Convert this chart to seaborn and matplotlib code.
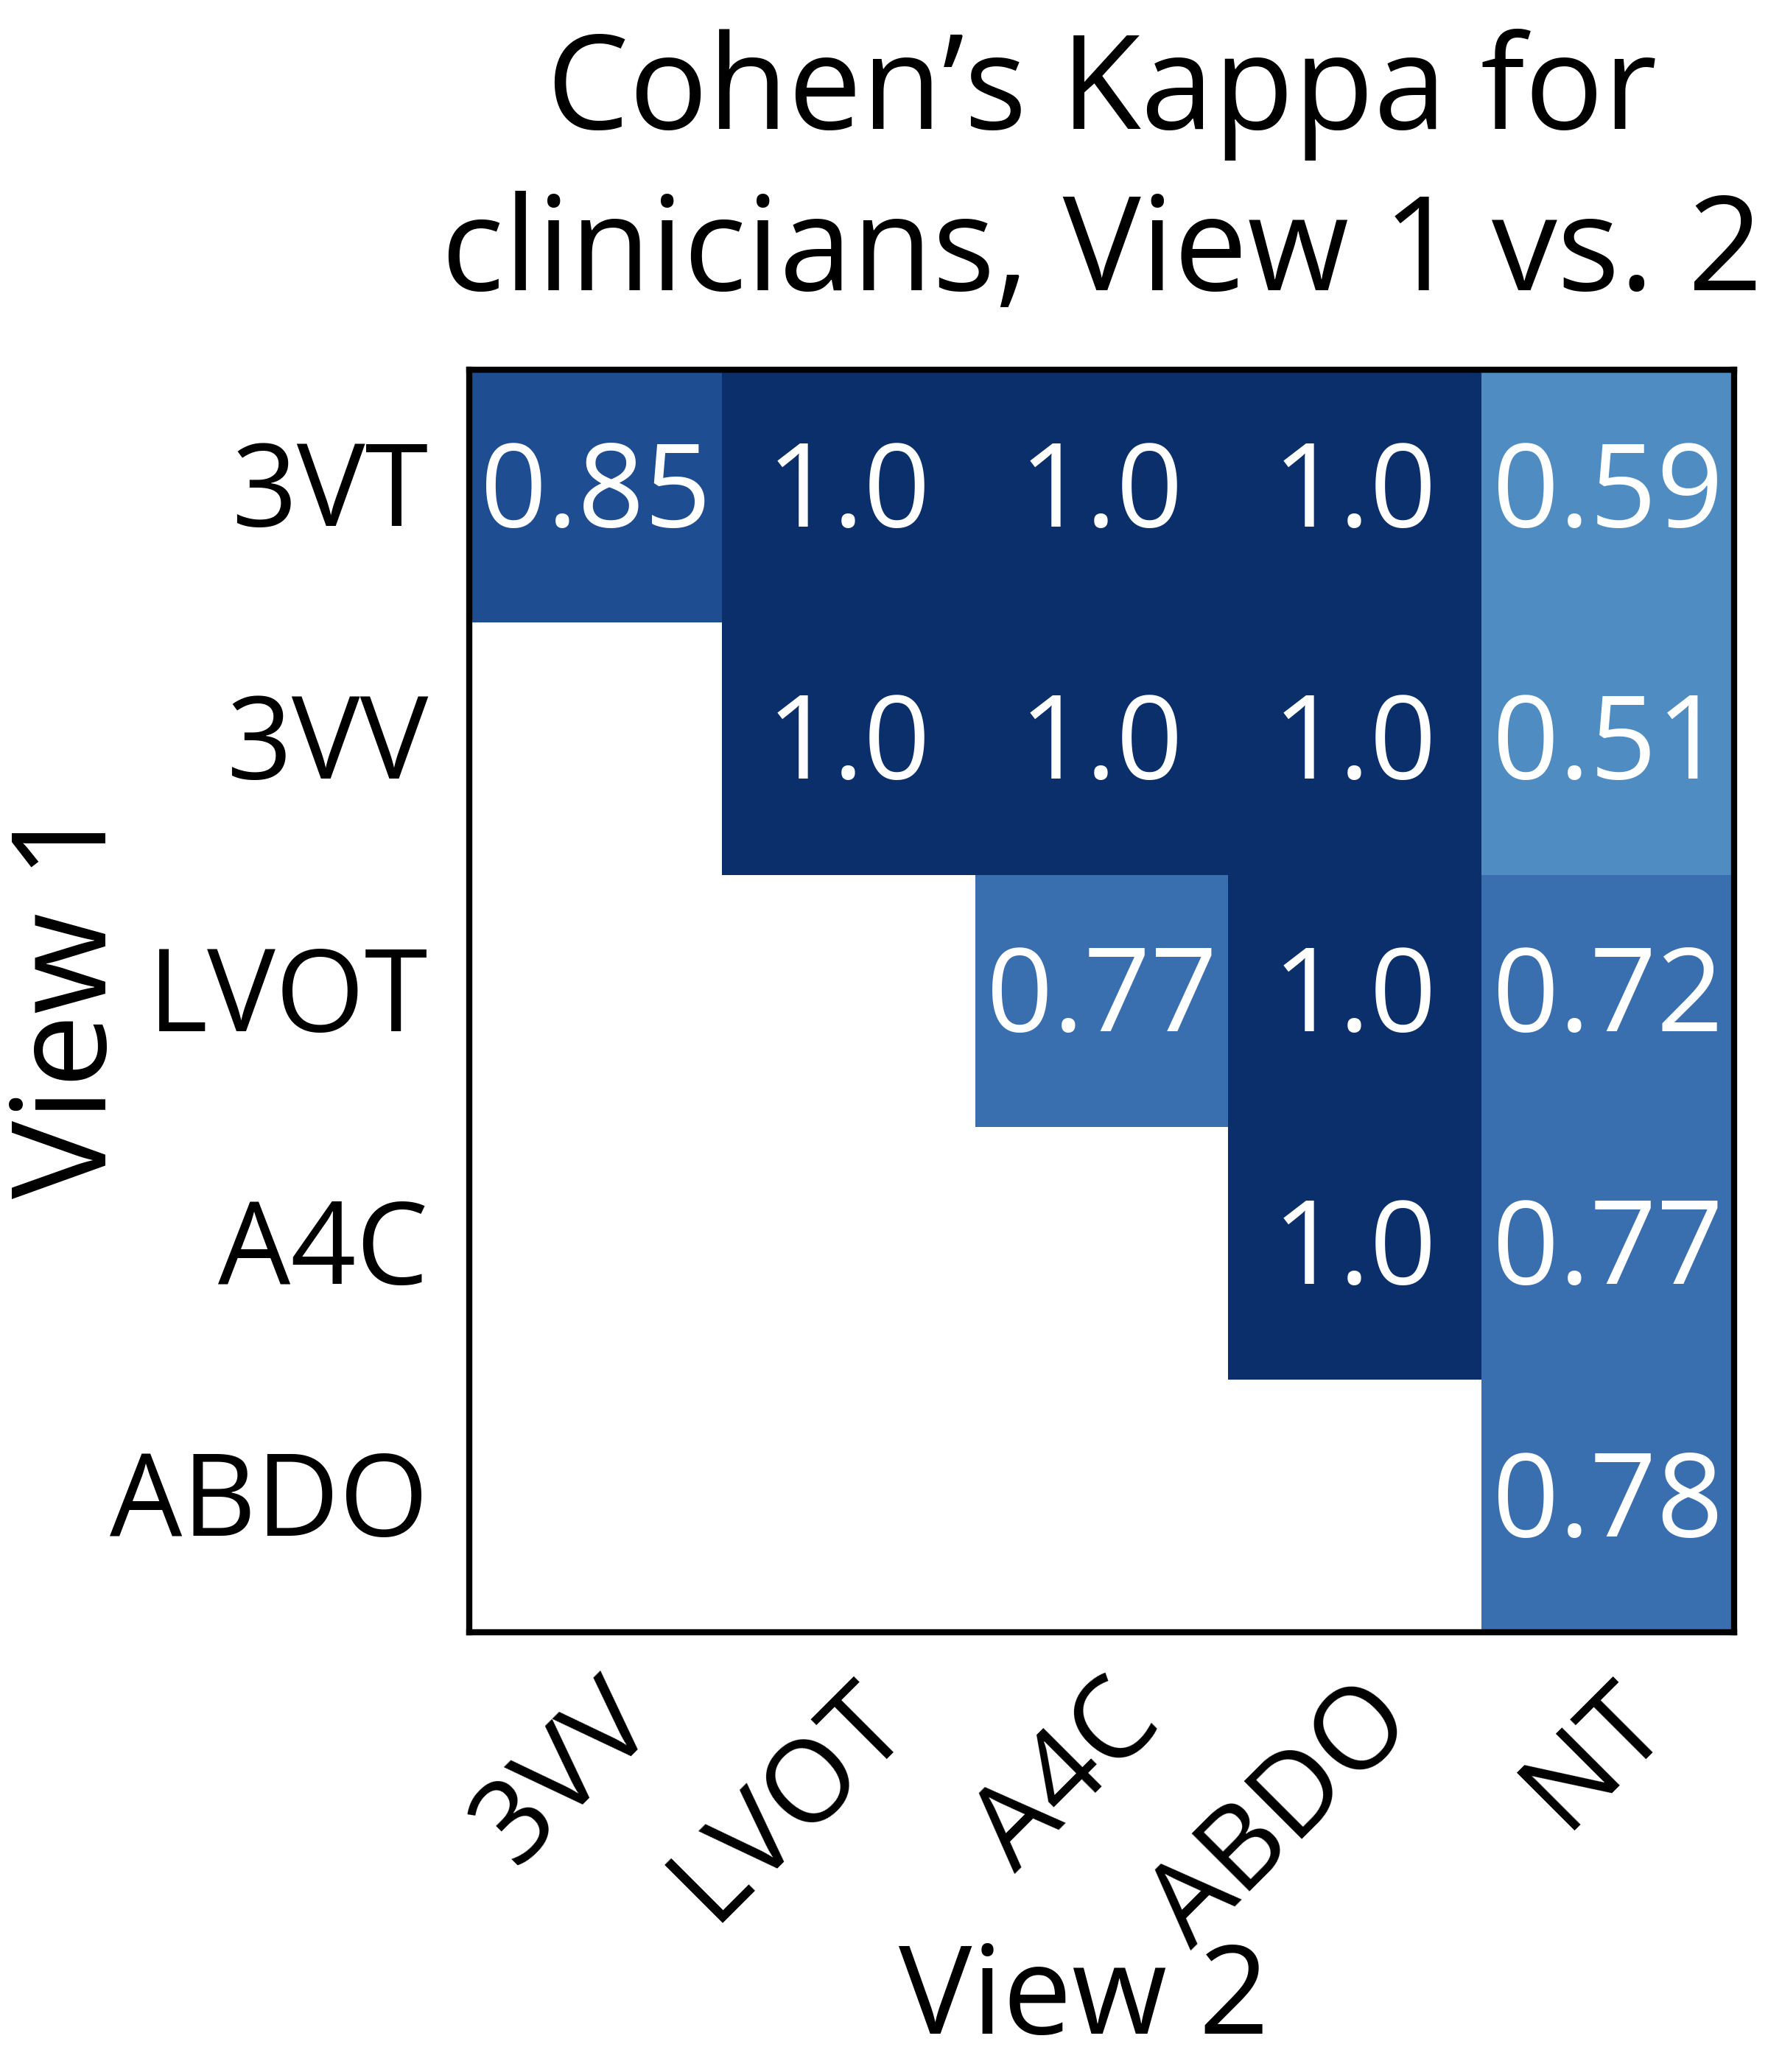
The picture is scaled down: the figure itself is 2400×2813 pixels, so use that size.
import numpy as np
import pandas as pd
import matplotlib
matplotlib.use("Agg")
import matplotlib.pyplot as plt
from matplotlib.colors import ListedColormap, BoundaryNorm
import seaborn as sns

# data
view1 = ["3VT", "3VV", "LVOT", "A4C", "ABDO"]
view2 = ["3VV", "LVOT", "A4C", "ABDO", "NT"]
row_3vt = [0.85, 1.0, 1.0, 1.0, 0.59]
row_3vv = [np.nan, 1.0, 1.0, 1.0, 0.51]
row_lvot = [np.nan, np.nan, 0.77, 1.0, 0.72]
row_a4c = [np.nan, np.nan, np.nan, 1.0, 0.77]
row_abdo = [np.nan, np.nan, np.nan, np.nan, 0.78]

kappa = pd.DataFrame([row_3vt, row_3vv, row_lvot, row_a4c, row_abdo],
                     index=view1, columns=view2)
labels = kappa.map(lambda v: "" if pd.isna(v) else str(v))

plt.rcParams["font.family"] = ["Open Sans", "DejaVu Sans"]

# stepped blues, as seen in the reference
cmap = ListedColormap(["#4e8cc2", "#3a6faf", "#1f4d91", "#0a2f6b"])
norm = BoundaryNorm([0.5, 0.7, 0.8, 0.9, 1.01], cmap.N)

fig = plt.figure(figsize=(24, 28.13), dpi=100)
ax = fig.add_axes([0.2654, 0.2122, 0.7154, 0.6093])

sns.heatmap(kappa, ax=ax, cmap=cmap, norm=norm, cbar=False,
            annot=labels, fmt="", mask=kappa.isna(),
            annot_kws={"size": 114, "color": "white"})

for s in ax.spines.values():
    s.set_visible(True)
    s.set_linewidth(6)
    s.set_color("black")

ax.tick_params(length=0, labelsize=112)
ax.tick_params(axis="y", pad=40)
ax.tick_params(axis="x", pad=30)
plt.setp(ax.get_yticklabels(), rotation=0)
plt.setp(ax.get_xticklabels(), rotation=45, ha="right", rotation_mode="anchor")

ax.set_title("Cohen\u2019s Kappa for\nclinicians, View 1 vs. 2", fontsize=128,
             pad=78, linespacing=1.3)
ax.set_xlabel("View 2", fontsize=120)
ax.set_ylabel("View 1", fontsize=128)
ax.xaxis.set_label_coords(0.486, -0.244)
ax.yaxis.set_label_coords(-0.262, 0.5)

fig.savefig("out.png", dpi=100)
